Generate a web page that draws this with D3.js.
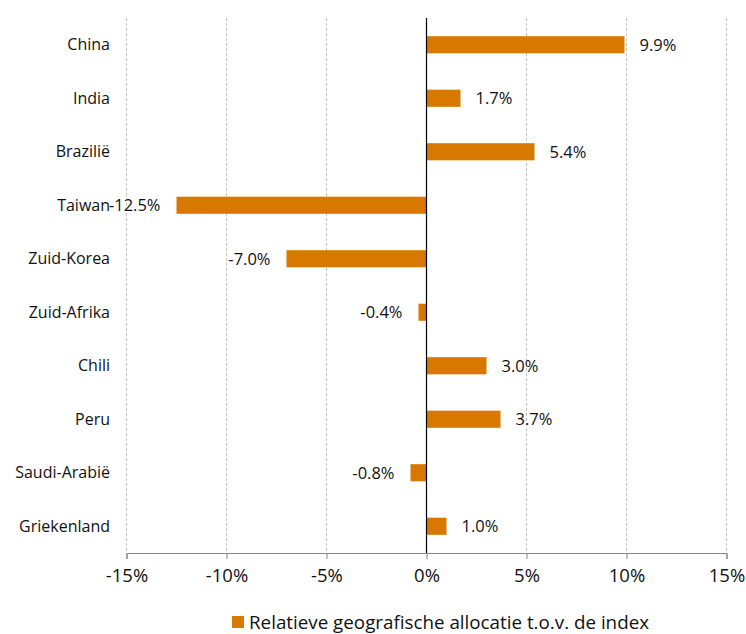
<!DOCTYPE html>
<html><head><meta charset="utf-8">
<script src="https://cdn.jsdelivr.net/npm/d3@7"></script>
<style>body{margin:0;background:#fff;} text{font-family:"Open Sans",sans-serif;fill:#111;}</style>
</head><body>
<svg id="c" width="746" height="634"></svg>
<script>
const categories = ["China","India","Brazilië","Taiwan","Zuid-Korea","Zuid-Afrika","Chili","Peru","Saudi-Arabië","Griekenland"];
const values = [9.9,1.7,5.4,-12.5,-7.0,-0.4,3.0,3.7,-0.8,1.0];
const ticks = [-15,-10,-5,0,5,10,15];
const seriesName = "Relatieve geografische allocatie t.o.v. de index";
const color = "#D77900";

const svg = d3.select("#c");
const x = d3.scaleLinear().domain([-15,15]).range([126.5,726.5]);
const y = d3.scaleBand().domain(categories).range([18,553]).paddingInner(0.68).paddingOuter(0.34);

// gridlines
svg.append("g").selectAll("line").data(ticks.filter(t=>t!==0)).join("line")
  .attr("x1",d=>x(d)).attr("x2",d=>x(d)).attr("y1",18).attr("y2",553)
  .attr("stroke","#c4c4c4").attr("stroke-dasharray","3,2").attr("stroke-width",1);

// bars
svg.append("g").selectAll("rect").data(values).join("rect")
  .attr("x",(d)=>x(Math.min(0,d))).attr("width",d=>Math.abs(x(d)-x(0)))
  .attr("y",(d,i)=>y(categories[i])).attr("height",y.bandwidth())
  .attr("fill",color);

// zero line
svg.append("line").attr("x1",x(0)).attr("x2",x(0)).attr("y1",18).attr("y2",553)
  .attr("stroke","#000").attr("stroke-width",1.2);

// x axis
const ax = svg.append("g").attr("transform","translate(0,553)")
  .call(d3.axisBottom(x).tickValues(ticks).tickSize(6).tickPadding(10).tickFormat(d=>d+"%"));
ax.select(".domain").attr("stroke","#868686");
ax.selectAll(".tick line").attr("stroke","#868686");
ax.selectAll("text").attr("font-size",18.5).attr("font-family","'Open Sans',sans-serif").attr("fill","#111");

// category labels
svg.append("g").selectAll("text").data(categories).join("text")
  .attr("x",110).attr("y",d=>y(d)+y.bandwidth()/2).attr("dy","0.35em")
  .attr("text-anchor","end").attr("font-size",16).text(d=>d);

// value labels
svg.append("g").selectAll("text").data(values).join("text")
  .attr("x",d=>d>=0?x(d)+15:x(d)-16)
  .attr("y",(d,i)=>y(categories[i])+y.bandwidth()/2).attr("dy","0.35em")
  .attr("text-anchor",d=>d>=0?"start":"end").attr("font-size",16.5)
  .text(d=>d.toFixed(1)+"%");

// legend
const lg = svg.append("g");
lg.append("rect").attr("x",232).attr("y",616).attr("width",12).attr("height",12).attr("fill",color);
lg.append("text").attr("x",249).attr("y",622).attr("dy","0.35em").attr("font-size",18.8).text(seriesName);
</script>
</body></html>
